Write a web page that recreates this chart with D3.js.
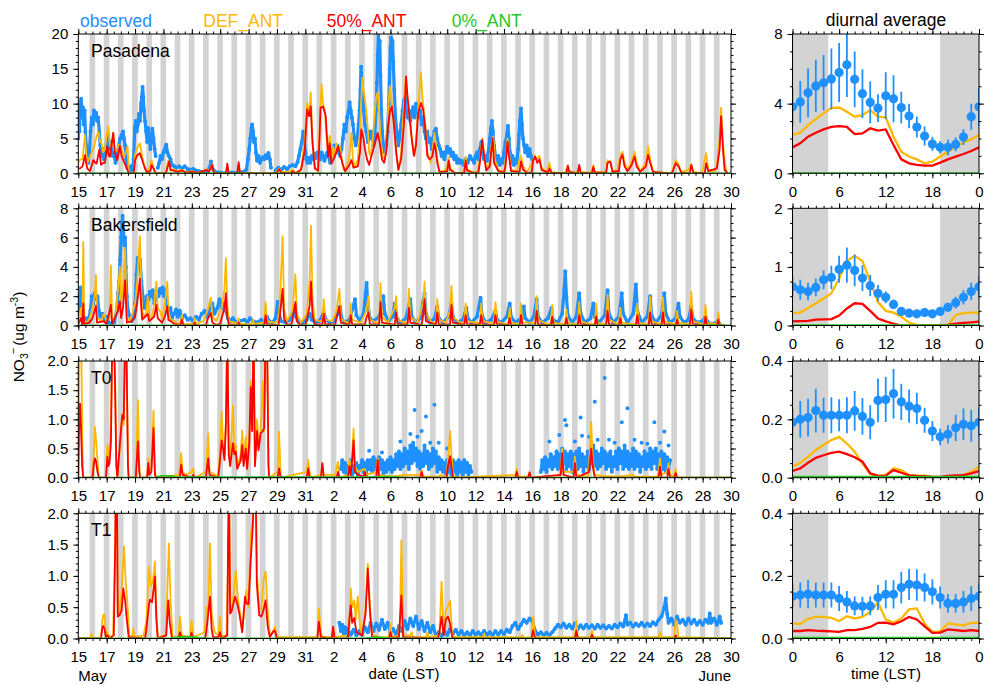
<!DOCTYPE html>
<html><head><meta charset="utf-8">
<script src="https://cdn.jsdelivr.net/npm/d3@7/dist/d3.min.js"></script>
<style>body{margin:0;background:#fff}</style>
</head><body>
<svg id="c" width="984" height="685"></svg>
<script>
// ---------------- DATA ----------------
const siteNames = ["Pasadena","Bakersfield","T0","T1"];
const seriesNames = ["observed","DEF_ANT","50%_ANT","0%_ANT"];
// date ticks: days since 15 May 00:00 LST
const dateTickDays = [0,2,4,6,8,10,12,14,16,18,20,22,24,26,28,30,32,34,36,38,40,42,44,46];
const dateTickLabels = ["15","17","19","21","23","25","27","29","31","2","4","6","8","10","12","14","16","18","20","22","24","26","28","30"];
const hourTicks = [0,6,12,18,24];
const hourTickLabels = ["0","6","12","18","0"];
const hours = [0,1,2,3,4,5,6,7,8,9,10,11,12,13,14,15,16,17,18,19,20,21,22,23,24];
const leftMax = [20,8,2,2], leftMajor = [5,2,0.5,0.5], leftMinor = [1,0.5,0.1,0.1], leftFmt = ["d","d",".1f",".1f"];
const rightMax = [8,2,0.4,0.4], rightMajor = [4,1,0.2,0.2], rightMinor = [1,0.25,0.05,0.05], rightFmt = ["d","d",".1f",".1f"];

// ---- time series [day since May 15, value]; null = gap ----
const pasObs = [[0.0,5],[0.04,9],[0.08,6],[0.13,10],[0.2,10.7],[0.26,8],[0.32,9.5],[0.38,7],[0.45,9],[0.5,6],[0.56,4],[0.62,2],[0.7,1.5],[0.78,3],[0.86,6],[0.95,8],[1.03,7],[1.1,9],[1.18,8],[1.25,8.7],[1.33,7.5],[1.4,8],[1.48,6],[1.55,4],[1.62,2.5],[1.7,3.5],[1.8,2],[1.9,3],[2.0,4.5],[2.1,5.5],[2.18,3.5],[2.28,4.5],[2.4,2.5],[2.5,3],[2.62,1.5],[2.72,2.5],[2.85,4],[2.95,5],[3.05,5.5],[3.15,6],[3.22,5],[3.3,4],[3.38,2],[3.45,0.8],[3.6,0.3],[3.7,1],[3.8,0.5],[3.9,2],[3.98,6.5],[4.05,7.5],[4.12,6],[4.2,7],[4.28,8.5],[4.35,7.5],[4.42,10],[4.48,11],[4.53,12.4],[4.58,11],[4.63,9],[4.7,7.5],[4.78,6],[4.85,4.5],[4.92,6.5],[5.0,5],[5.08,3.5],[5.15,5],[5.22,6.4],[5.3,5],[5.38,3.5],[5.45,2.5],null,[5.6,0.8],[5.7,1.5],[5.8,2.5],[5.9,2],[6.0,3],[6.1,3.5],[6.2,4.1],[6.28,3],[6.38,2.5],[6.5,2],[6.6,1.2],[6.75,1],[6.9,0.8],[7.1,1],[7.3,0.7],[7.5,1],[7.7,0.6],[7.9,0.5],[8.1,0.6],[8.3,0.4],[8.5,0.3],[8.7,0.2],[8.9,0.1],[9.1,0.3],[9.25,0.8],[9.35,1.7],[9.45,0.7],[9.6,0.3],[9.8,0.1],[10.0,0.1],[10.4,0],[10.8,0.1],[11.2,0.1],[11.6,0.2],[11.85,0.5],[11.95,2],[12.05,3.5],[12.12,5],[12.2,6.5],[12.25,7],[12.32,6],[12.38,4.5],[12.45,5],[12.52,3],[12.6,1.8],[12.7,2.5],[12.8,1.5],[12.9,2],[13.0,2.3],[13.1,2],[13.2,2.6],[13.3,2.2],[13.4,2.9],[13.5,2],[13.58,0.8],null,[13.9,0.4],[14.1,0.8],[14.3,0.5],[14.5,0.9],[14.7,0.6],[14.9,1],[15.1,1.2],[15.3,1],[15.45,1.6],[15.55,2.5],[15.65,3.5],[15.75,4.5],[15.85,6],[15.92,5],[16.0,3],[16.08,2],[16.15,1.5],[16.25,2.2],[16.35,1.5],[16.45,2.5],[16.55,2],[16.65,2.8],[16.75,2.2],[16.85,3],[16.95,2.5],[17.05,2],[17.15,3],[17.25,2.5],[17.35,1.8],[17.45,2.5],[17.55,3],[17.65,2.4],[17.75,1.5],[17.85,2.5],[17.95,3.5],[18.05,4],[18.15,3],[18.25,4],[18.35,3],[18.45,2.5],[18.55,3.5],[18.65,5],[18.75,7],[18.85,6],[18.95,8],[19.05,9],[19.12,10.2],[19.2,9],[19.28,8],[19.36,7],[19.45,5],[19.55,4],[19.65,5],[19.75,7],[19.82,9],[19.88,12],[19.93,15.3],[19.98,13],[20.05,11],[20.12,9],[20.2,7],[20.3,6],[20.4,4.5],[20.5,6],[20.6,5],[20.7,6],[20.8,4],[20.9,5.5],[20.98,9],[21.05,13],[21.1,17],[21.15,20],[21.2,18],[21.25,19],[21.3,14],[21.36,9],[21.42,6],[21.5,4],[21.6,3],[21.7,4],[21.8,6],[21.88,10],[21.95,15],[22.0,18],[22.05,19.5],[22.1,17],[22.15,19],[22.2,16],[22.27,12],[22.35,8],[22.45,6],[22.55,4],[22.65,5],[22.75,7],[22.85,9],[22.95,10.5],[23.05,11],[23.12,9],[23.2,8],[23.3,9],[23.4,7.5],[23.5,8.5],[23.6,9.5],[23.7,8],[23.8,10],[23.9,9],[24.0,8],[24.1,9],[24.2,7],[24.3,8],[24.4,6],[24.5,5],[24.6,6],[24.7,4.5],[24.8,5],[24.9,3.5],[25.0,5],[25.1,6],[25.2,6.4],[25.3,5],[25.4,4],[25.5,3.5],[25.6,2.5],[25.7,3],[25.8,2],[25.9,3],[26.0,3.8],[26.1,3],[26.2,3.5],[26.3,2.5],[26.4,3],[26.5,2],[26.6,2.5],[26.7,1.5],[26.8,2],[26.9,1.5],[27.0,1.8],[27.15,1.2],[27.3,2],[27.45,1.5],[27.6,2.5],[27.75,2],[27.9,1.5],[28.0,2.5],[28.1,3],[28.2,2],[28.3,3.5],[28.4,4.5],[28.5,3],[28.6,2],[28.7,2.5],[28.8,1.8],[28.9,3],[29.0,5],[29.08,6.5],[29.15,7.5],[29.22,6],[29.3,4],[29.4,2.5],[29.5,1.5],[29.6,2.5],[29.7,1.2],[29.8,2],[29.9,1.5],[30.0,3],[30.1,4.5],[30.2,5.5],[30.28,6.8],[30.35,5],[30.42,3],[30.5,1.5],[30.6,2.5],[30.7,1.2],[30.8,2],[30.9,1.5],[31.0,3.5],[31.06,5.5],[31.12,7.5],[31.2,9.3],[31.27,7],[31.34,5],[31.42,4],[31.5,3],[31.6,4],[31.7,2.5],[31.8,3.5],[31.9,2.5],[32.0,2]];
const pasDef = [[0,1.5],[0.12,2],[0.3,2],[0.47,5.5],[0.55,3],[0.63,1.5],[0.82,2.4],[0.95,3],[1.13,4],[1.25,5],[1.41,6],[1.55,4.5],[1.64,4.3],[1.75,3],[1.88,3.5],[2.0,5.5],[2.11,6.7],[2.23,4],[2.35,3.8],[2.46,5.8],[2.58,3],[2.75,3.5],[2.82,4.1],[2.98,3.8],[3.1,3],[3.22,2.4],[3.35,3],[3.47,3.9],[3.57,0],[3.9,0],[4.0,2.7],[4.15,3.6],[4.35,4.3],[4.45,3],[4.6,1.5],[4.8,0],[5.1,1.2],[5.16,1.9],[5.3,0.8],[5.45,0],[6.1,0.1],[6.2,0.3],[6.34,1.9],[6.5,0.4],[6.7,0.6],[7.0,0.3],[7.3,0.5],[7.6,0.1],[8.0,0.3],[8.3,0.1],[8.7,0.2],[9.04,0.6],[9.2,0.3],[9.44,1.3],[9.55,0.1],[10.0,0],[10.4,0],[10.5,0.9],[10.6,0],[11.2,0],[11.3,1.1],[11.4,0],[11.9,0.1],[12.5,0],[13.5,0],[13.9,0],[14.0,0.3],[14.15,0.7],[14.3,0.2],[14.8,0.2],[15.1,0.5],[15.3,0.1],[15.6,0],[15.73,1],[15.96,4.8],[16.13,10.1],[16.27,8.7],[16.38,11.6],[16.5,5],[16.67,0.8],[16.9,0.3],[17.0,6],[17.14,12.8],[17.25,10],[17.37,9],[17.5,5],[17.6,3.4],[17.72,5.4],[17.84,1.9],[17.96,3.8],[18.08,2.5],[18.19,4.3],[18.31,3.5],[18.43,3.9],[18.54,2.4],[18.7,0.5],[18.9,0.8],[19.1,2.4],[19.25,5.8],[19.35,2],[19.5,1],[19.7,2],[19.85,6],[19.95,11],[20.02,13.7],[20.1,12],[20.2,10.6],[20.3,9],[20.4,6.5],[20.5,3],[20.6,2.4],[20.75,5],[20.9,9],[21.0,11],[21.1,11.6],[21.2,9],[21.3,5],[21.45,2.4],[21.6,2],[21.75,5],[21.85,9.6],[21.95,12.5],[22.05,11],[22.15,9],[22.3,5.5],[22.45,2.4],[22.6,0.5],[22.75,3],[22.9,8],[23.05,13.5],[23.15,12],[23.25,10],[23.4,7],[23.55,4],[23.7,2.5],[23.85,6],[23.95,9.2],[24.05,12],[24.15,14.5],[24.25,11],[24.35,9],[24.5,6.2],[24.6,3],[24.7,2.4],[24.85,1.5],[24.95,2.9],[25.1,5.8],[25.2,4],[25.3,2],[25.45,0.3],[25.8,0.3],[26.0,1],[26.1,2.2],[26.2,0.8],[26.5,0.1],[27.1,0.05],[27.2,0.8],[27.3,2.4],[27.4,0.6],[27.8,0.1],[28.1,0.1],[28.2,1],[28.3,2],[28.47,5],[28.6,2.8],[28.75,0.6],[29.0,1.5],[29.15,4.5],[29.25,5.3],[29.35,2],[29.6,0.5],[30.0,0.2],[30.1,1.5],[30.25,5],[30.35,3],[30.5,0.5],[30.9,0.3],[31.1,2],[31.2,2.5],[31.35,1],[31.6,0.2],[32.0,1.5],[32.15,2.6],[32.3,2],[32.5,2.5],[32.65,0.8],[33.0,0.2],[33.2,1.5],[33.35,0.2],[34.0,0],[34.3,0],[34.4,0.6],[34.5,1.1],[34.6,0.3],[35.1,0.05],[35.2,0.4],[35.3,1],[35.4,0.2],[36.1,0.05],[36.2,0.5],[36.3,1.2],[36.4,0.2],[37.0,0.2],[37.2,0.1],[37.3,1.9],[37.5,1.5],[37.65,0.3],[38.0,0.5],[38.2,2.5],[38.35,3.1],[38.5,1.5],[38.7,0.5],[39.0,1.8],[39.2,3.1],[39.35,1.5],[39.6,0.3],[40.0,1.5],[40.15,3.9],[40.3,2],[40.5,0.3],[41.0,0],[41.1,0.3],[41.2,0],[41.8,0],[41.9,0.5],[42.1,1.9],[42.3,1.3],[42.5,0.2],[43.0,0.5],[43.2,1.3],[43.35,0.2],[43.9,0.05],[44.0,0.5],[44.25,2.9],[44.4,0.5],[44.8,0.2],[45.0,1],[45.2,5],[45.3,9.4],[45.45,4],[45.55,1.9],[45.65,0.5],[45.75,0]];
const pasHalf = [[0,0.7],[0.12,0.7],[0.3,1],[0.47,2.6],[0.55,1.5],[0.63,0.7],[0.82,0.3],[1.06,1.9],[1.2,1.5],[1.29,1.4],[1.48,3.4],[1.6,1.2],[1.75,1.5],[1.88,1.5],[2.04,3.9],[2.15,2.5],[2.23,2.4],[2.46,5.8],[2.58,2.9],[2.75,1.9],[2.93,3.9],[3.05,2.5],[3.17,1.9],[3.36,1],[3.5,0.3],[3.57,0],[3.9,0],[4.0,1.9],[4.15,2.6],[4.33,2.9],[4.5,1.9],[4.7,0.7],[4.9,0],[5.1,0.5],[5.16,1.2],[5.3,0.7],[5.45,0],[6.1,0],[6.2,0.2],[6.4,1.7],[6.5,0.5],[6.7,0.4],[7.0,0.2],[7.3,0.4],[7.6,0.1],[8.0,0.2],[8.5,0.1],[9.04,0.5],[9.2,0.2],[9.44,1.2],[9.55,0.1],[10.0,0],[10.4,0],[10.5,1.4],[10.6,0],[11.2,0],[11.3,1.6],[11.4,0],[12.0,0],[13.9,0],[14.0,0.1],[14.15,0.6],[14.3,0.1],[15.0,0],[15.1,0.3],[15.3,0],[15.7,0.5],[15.96,3.4],[16.13,9.2],[16.27,8.2],[16.38,9.6],[16.5,4.5],[16.67,0.7],[16.9,0.4],[17.0,5],[17.07,9.4],[17.25,9.6],[17.44,8.2],[17.6,2.4],[17.72,4.3],[17.84,1.4],[18.08,2.4],[18.31,3.9],[18.43,2.9],[18.62,1.4],[18.8,0.3],[19.1,1.2],[19.25,1.9],[19.4,0.8],[19.7,1],[19.85,3],[19.95,6.3],[20.1,5],[20.2,3.5],[20.35,2],[20.5,1.2],[20.6,2],[20.8,3.5],[21.0,5],[21.1,5.8],[21.25,4.3],[21.4,2],[21.55,1.5],[21.7,3],[21.82,6.7],[21.95,8.7],[22.1,9.6],[22.25,7],[22.4,3],[22.55,0.5],[22.75,2],[22.95,7],[23.1,13.9],[23.2,11],[23.35,8],[23.5,5],[23.65,2.5],[23.8,4],[23.95,8.7],[24.15,10.1],[24.3,9.2],[24.45,6.5],[24.6,2.5],[24.75,2],[24.95,2.4],[25.1,4.3],[25.2,3.2],[25.3,1.5],[25.45,0.2],[25.8,0.2],[26.0,0.3],[26.1,1.8],[26.2,0.5],[26.5,0.1],[27.2,0.05],[27.3,1.8],[27.4,0.4],[27.8,0.1],[28.2,0.1],[28.3,1.5],[28.47,4.8],[28.6,2.5],[28.75,0.4],[29.0,1],[29.2,5],[29.3,1.5],[29.6,0.3],[30.0,0.1],[30.1,1],[30.25,4.5],[30.35,2.5],[30.5,0.3],[31.1,0.2],[31.2,1.7],[31.35,0.5],[31.6,0.1],[31.95,0.1],[32.05,1.8],[32.2,2.4],[32.35,1.5],[32.5,2],[32.65,0.5],[33.1,0.1],[33.2,0.7],[33.35,0.1],[34.4,0],[34.5,1.1],[34.6,0.2],[35.2,0],[35.3,1.2],[35.4,0.1],[36.2,0],[36.3,0.9],[36.4,0.1],[37.2,0.1],[37.3,1.5],[37.5,1.7],[37.65,0.2],[38.1,0.3],[38.2,2],[38.35,2.65],[38.5,1],[38.7,0.3],[39.0,1.2],[39.2,2.4],[39.35,1],[39.6,0.2],[40.0,1],[40.15,2.65],[40.3,1.5],[40.5,0.2],[41.1,0.1],[41.8,0],[41.9,0.3],[42.1,1.45],[42.3,1],[42.5,0.1],[43.1,0],[43.2,1.2],[43.35,0.1],[44.15,0],[44.25,1.45],[44.4,0.3],[45.0,0.7],[45.2,3.5],[45.3,8.2],[45.45,3],[45.55,0.5],[45.75,0]];
const pasZero = [[0,0],[46,0]];

const bakObs = [[0,0.5],[0.05,2],[0.1,1],[0.15,2.6],[0.22,1.5],[0.3,0.5],[0.4,0.3],[0.55,0.5],[0.7,0.3],[0.85,1],[0.95,2],[1.05,1.5],[1.15,2.2],[1.25,1.8],[1.35,2],[1.45,1],[1.55,0.6],[1.7,0.8],[1.85,0.4],[2.0,0.6],[2.15,0.2],[2.35,0.1],[2.55,0.2],[2.7,1],[2.8,2.2],[2.88,3],[2.95,4.5],[3.02,6],[3.08,7],[3.12,7.5],[3.18,6.5],[3.25,5.5],[3.3,6],[3.35,4],[3.42,2],[3.5,1],[3.6,0.7],[3.75,0.3],[3.9,0.5],[4.0,1.5],[4.1,3.5],[4.18,4.6],[4.25,4],[4.35,4.5],[4.45,3],[4.55,2],[4.65,1.2],[4.75,1.5],[4.85,2],[4.95,1.8],[5.05,2.3],[5.15,2],[5.25,2.4],[5.35,1.5],[5.45,1.8],[5.55,2.3],[5.65,2],[5.75,2.5],[5.85,2.2],[5.95,2.6],[6.05,2],[6.15,2.4],[6.25,1.5],[6.35,0.8],[6.5,1.2],[6.6,0.5],[6.75,0.8],[6.9,1.1],[7.0,0.6],[7.15,1],[7.3,0.5],[7.5,0.7],[7.7,0.4],[7.9,0.5],[8.1,0.3],[8.3,0.6],[8.5,0.4],[8.7,0.8],[8.9,1],[9.1,0.6],[9.3,1.2],[9.45,1.5],[9.6,0.8],[9.8,1.2],[9.95,1.8],[10.1,1.2],[10.25,1.5],[10.4,1],[10.55,0.5],[10.7,0.3],[10.9,0.5],[11.1,0.2],[11.4,0.3],[11.7,0.4],[11.9,0.2],[12.1,0.5],[12.3,0.3],[12.6,0.2],[12.9,0.4],[13.1,0.2],[13.3,0.6],[13.45,0.3],[13.7,0.2],[13.9,0.5],[14.05,1.6],[14.15,0.8],[14.3,0.3],[14.6,0.2],[14.9,0.4],[15.1,0.8],[15.25,1.3],[15.35,0.6],[15.5,0.3],[15.8,0.2],[16.1,0.4],[16.3,0.8],[16.45,0.4],[16.7,0.2],[17.0,0.3],[17.3,0.9],[17.45,0.4],[17.7,0.2],[18.0,0.3],[18.3,0.8],[18.45,1.3],[18.55,0.5],[18.8,0.2],[19.1,0.4],[19.35,1.2],[19.5,1.8],[19.6,0.7],[19.85,0.3],[20.1,0.8],[20.25,2.2],[20.32,2.9],[20.4,1.5],[20.55,0.5],[20.8,0.3],[21.2,0.6],[21.4,1.4],[21.5,2],[21.6,0.8],[21.85,0.3],[22.15,0.6],[22.3,1.5],[22.4,0.6],[22.7,0.2],[23.1,0.5],[23.3,1.4],[23.4,1.8],[23.5,0.6],[23.8,0.2],[24.1,0.5],[24.3,1.6],[24.4,2.2],[24.5,0.8],[24.8,0.2],[25.1,0.5],[25.3,1.3],[25.4,0.5],[25.7,0.2],[26.1,0.6],[26.3,1.5],[26.4,0.6],[26.7,0.2],[27.1,0.4],[27.35,1.2],[27.45,0.5],[27.7,0.2],[28.1,0.6],[28.35,1.9],[28.45,0.7],[28.7,0.2],[29.1,0.4],[29.4,1],[29.5,0.4],[29.8,0.2],[30.2,0.6],[30.4,1.5],[30.5,0.6],[30.8,0.2],[31.2,0.5],[31.4,1.3],[31.5,0.5],[31.8,0.2],[32.1,0.6],[32.3,1.8],[32.4,0.6],[32.7,0.2],[33.1,0.5],[33.35,1.2],[33.45,0.4],[33.8,0.2],[34.1,0.8],[34.25,2.5],[34.32,3.7],[34.4,2],[34.5,0.7],[34.8,0.2],[35.1,0.6],[35.3,2.2],[35.4,0.8],[35.7,0.2],[36.1,0.5],[36.3,1.5],[36.4,0.6],[36.7,0.2],[37.1,0.7],[37.3,2.4],[37.4,0.8],[37.7,0.2],[38.1,0.6],[38.3,2.2],[38.4,0.8],[38.7,0.2],[39.1,0.8],[39.3,2.8],[39.4,1],[39.7,0.2],[40.1,0.6],[40.3,2],[40.4,0.7],[40.7,0.2],[41.1,0.7],[41.3,2.2],[41.4,0.8],[41.7,0.2],[42.1,0.5],[42.3,1.5],[42.4,0.6],[42.7,0.2],[43.0,0.4],[43.2,1.3],[43.3,0.5],[43.6,0.2],[44.0,0.3],[44.2,0.6],[44.3,0.3],[44.6,0.1],[45.0,0.2],[45.2,0.1]];
const bakDef = [[0,0.3],[0.2,1.2],[0.28,0],[0.35,5.7],[0.42,0.3],[0.6,0.2],[0.8,0.5],[1.0,1.2],[1.15,2],[1.24,3.45],[1.32,0.5],[1.6,0.3],[1.8,0.8],[2.0,0.3],[2.2,0.5],[2.3,4.1],[2.38,0.3],[2.6,0.5],[2.8,2.5],[2.93,4.0],[3.02,1.5],[3.15,2.5],[3.3,5.3],[3.42,0.5],[3.6,0.3],[3.8,0.8],[4.0,1.5],[4.15,3],[4.34,6.1],[4.42,3],[4.5,1],[4.65,0.5],[4.8,1],[4.9,2],[5.0,0.7],[5.2,0.5],[5.35,1.5],[5.5,3.0],[5.6,1.2],[5.75,1],[5.9,0.5],[6.1,1.5],[6.27,3.0],[6.35,1],[6.5,0.4],[6.8,0.3],[7.0,0.1],[7.2,0.1],[7.3,0.7],[7.4,0.1],[7.8,0.1],[8.1,0.1],[8.2,0.5],[8.3,0.1],[8.8,0.3],[9.1,1],[9.34,1.9],[9.45,0.6],[9.7,0.3],[10.1,1.2],[10.3,2.5],[10.4,4.6],[10.5,1.5],[10.6,0.3],[11.0,0.2],[11.2,0.1],[11.3,0.5],[11.4,0.1],[12.0,0.1],[12.2,0.1],[12.3,0.4],[12.4,0.1],[13.0,0.2],[13.1,0.2],[13.2,1.6],[13.3,0.3],[13.8,0.2],[14.1,0.3],[14.2,1.5],[14.4,6.1],[14.5,1.2],[14.7,0.3],[15.1,1],[15.3,3.5],[15.4,0.8],[15.7,0.2],[16.1,0.8],[16.3,3],[16.4,6.8],[16.5,2],[16.65,0.4],[17.0,0.3],[17.2,0.3],[17.3,1.8],[17.4,0.4],[17.9,0.3],[18.2,1],[18.4,2.5],[18.5,0.5],[18.9,0.2],[19.1,0.2],[19.2,1.5],[19.3,0.4],[19.9,0.2],[20.3,1],[20.45,2],[20.55,0.4],[21.0,0.2],[21.2,0.2],[21.3,2.9],[21.4,0.6],[21.8,0.2],[22.3,1.2],[22.4,2],[22.5,0.4],[23.0,0.2],[23.2,0.2],[23.3,2.5],[23.4,0.6],[23.9,0.2],[24.3,1.5],[24.4,3],[24.5,0.8],[24.9,0.2],[25.2,0.2],[25.3,1.8],[25.4,0.4],[25.9,0.2],[26.2,1],[26.3,2.7],[26.4,0.6],[26.9,0.2],[27.2,0.2],[27.3,1.5],[27.4,0.3],[28.0,0.2],[28.3,0.2],[28.4,1.5],[28.5,0.3],[29.0,0.2],[29.3,0.2],[29.4,1.6],[29.5,0.3],[30.0,0.1],[30.3,0.1],[30.4,1.2],[30.5,0.2],[31.0,0.1],[31.1,0.1],[31.2,1.5],[31.3,0.2],[32.0,0.2],[32.2,0.2],[32.3,2],[32.4,0.4],[33.0,0.1],[33.3,0.1],[33.4,1.4],[33.5,0.2],[34.0,0.1],[34.3,0.1],[34.4,1.1],[34.5,0.2],[35.0,0.1],[35.2,0.1],[35.3,1.6],[35.4,0.3],[36.0,0.1],[36.4,0.1],[36.5,1.5],[36.6,0.2],[37.0,0.1],[37.2,0.1],[37.3,2.1],[37.4,0.4],[38.0,0.1],[38.1,0.1],[38.2,1.2],[38.3,0.2],[39.0,0.1],[39.3,0.1],[39.4,1.5],[39.5,0.2],[40.0,0.1],[40.2,0.1],[40.3,2],[40.4,0.3],[41.0,0.1],[41.1,0.1],[41.2,1.9],[41.3,0.3],[42.0,0.1],[42.1,0.1],[42.2,1],[42.3,0.2],[43.0,0.1],[43.1,0.1],[43.2,2.3],[43.3,0.3],[44.0,0.1],[44.1,0.1],[44.2,1.4],[44.3,0.2],[45.0,0.1],[45.1,0.9],[45.2,0.1],[45.6,0]];
const bakHalf = [[0,0.1],[0.2,0.5],[0.28,0],[0.35,1.5],[0.42,0.1],[0.8,0.2],[1.0,0.5],[1.24,1.35],[1.32,0.2],[1.8,0.3],[2.0,0.1],[2.3,1.4],[2.38,0.1],[2.8,1],[2.93,1.65],[3.02,0.5],[3.15,1.2],[3.3,3.1],[3.42,0.2],[3.8,0.3],[4.0,0.6],[4.15,1.5],[4.34,3.2],[4.42,1.5],[4.5,0.4],[4.9,0.8],[5.0,0.3],[5.35,0.6],[5.5,1.4],[5.6,0.5],[5.9,0.2],[6.1,0.6],[6.27,1.3],[6.35,0.4],[6.8,0.1],[7.2,0.05],[7.3,0.4],[7.4,0],[8.1,0],[8.2,0.2],[8.3,0],[9.0,0],[9.1,0.4],[9.34,0.85],[9.45,0.2],[9.7,0.05],[10.0,0.1],[10.1,0.5],[10.3,1.2],[10.4,2.2],[10.5,0.6],[10.6,0.1],[11.2,0],[11.3,0.2],[11.4,0],[13.1,0],[13.2,0.7],[13.3,0.1],[14.1,0],[14.2,0.6],[14.4,2.5],[14.5,0.5],[14.7,0.05],[15.0,0.05],[15.1,0.4],[15.3,1.6],[15.4,0.3],[15.6,0.05],[16.0,0.05],[16.1,0.4],[16.3,1.3],[16.4,3],[16.5,0.8],[16.65,0.1],[17.2,0.05],[17.3,0.8],[17.4,0.1],[18.1,0.05],[18.2,0.5],[18.4,1.3],[18.5,0.2],[19.1,0.05],[19.2,0.7],[19.3,0.1],[20.2,0.05],[20.3,0.5],[20.45,0.9],[20.55,0.1],[21.2,0.05],[21.3,1.6],[21.4,0.2],[22.3,0.05],[22.4,0.9],[22.5,0.1],[23.2,0.05],[23.3,1.2],[23.4,0.2],[24.2,0.05],[24.3,0.7],[24.4,1.8],[24.5,0.3],[25.2,0.05],[25.3,0.9],[25.4,0.1],[26.2,0.05],[26.3,1.4],[26.4,0.2],[27.2,0.05],[27.3,0.7],[27.4,0.1],[28.3,0.05],[28.4,0.7],[28.5,0.1],[29.3,0.03],[29.4,0.7],[29.5,0.1],[30.3,0.02],[30.4,0.5],[30.5,0],[31.1,0],[31.2,0.7],[31.3,0],[32.2,0],[32.3,1],[32.4,0.1],[33.3,0],[33.4,0.6],[33.5,0],[34.3,0],[34.4,0.5],[34.5,0],[35.2,0],[35.3,0.7],[35.4,0.1],[36.4,0],[36.5,0.6],[36.6,0],[37.2,0],[37.3,1],[37.4,0.1],[38.1,0],[38.2,0.5],[38.3,0],[39.3,0],[39.4,0.7],[39.5,0],[40.2,0],[40.3,0.9],[40.4,0.1],[41.1,0],[41.2,0.9],[41.3,0.1],[42.1,0],[42.2,0.4],[42.3,0],[43.1,0],[43.2,1.1],[43.3,0.1],[44.1,0],[44.2,0.6],[44.3,0],[45.0,0],[45.1,0.4],[45.2,0],[45.6,0]];
const bakZero = [[0,0],[46,0]];

const t0Obs = [[18.5,0.15],[18.6,0.3],[18.7,0.1],[18.8,0.25],[18.9,0.05],[19.0,0.2],[19.1,0.1],[19.2,0.3],[19.3,0.05],[19.4,0.2],[19.5,0.1],[19.6,0.25],[19.7,0.05],[19.8,0.2],[19.9,0.15],[20.0,0.3],[20.1,0.1],[20.2,0.25],[20.3,0.05],[20.4,0.3],[20.5,0.15],[20.6,0.3],[20.7,0.1],[20.8,0.35],[20.9,0.15],[21.0,0.3],[21.1,0.1],[21.2,0.35],[21.3,0.15],[21.4,0.3],[21.5,0.05],[21.6,0.25],[21.7,0.1],[21.8,0.3],[21.9,0.15],[22.0,0.35],[22.1,0.1],[22.2,0.3],[22.3,0.15],[22.4,0.4],[22.5,0.2],[22.6,0.45],[22.7,0.15],[22.8,0.4],[22.9,0.2],[23.0,0.5],[23.1,0.25],[23.2,0.45],[23.3,0.15],[23.4,0.55],[23.5,0.25],[23.6,0.6],[23.7,0.3],[23.8,0.5],[23.9,0.2],[24.0,0.45],[24.1,0.15],[24.2,0.4],[24.3,0.2],[24.4,0.55],[24.5,0.25],[24.6,0.45],[24.7,0.15],[24.8,0.4],[24.9,0.2],[25.0,0.5],[25.1,0.25],[25.2,0.45],[25.3,0.1],[25.4,0.35],[25.5,0.15],[25.6,0.3],[25.7,0.1],[25.8,0.25],[25.9,0.05],[26.0,0.3],[26.1,0.1],[26.2,0.25],[26.3,0.05],[26.4,0.3],[26.5,0.1],[26.6,0.25],[26.7,0.05],[26.8,0.3],[26.9,0.1],[27.0,0.25],[27.1,0.05],[27.2,0.3],[27.3,0.1],[27.4,0.25],[27.5,0.05],[27.6,0.2],[27.7,0.1],null,[32.6,0.1],[32.7,0.3],[32.8,0.15],[32.9,0.35],[33.0,0.1],[33.1,0.3],[33.2,0.2],[33.3,0.4],[33.4,0.15],[33.5,0.35],[33.6,0.2],[33.7,0.45],[33.8,0.15],[33.9,0.4],[34.0,0.2],[34.1,0.5],[34.2,0.25],[34.3,0.45],[34.4,0.15],[34.5,0.4],[34.6,0.2],[34.7,0.45],[34.8,0.1],[34.9,0.4],[35.0,0.2],[35.1,0.45],[35.2,0.15],[35.3,0.5],[35.4,0.2],[35.5,0.4],[35.6,0.1],[35.7,0.35],[35.8,0.2],[35.9,0.45],[36.0,0.15],[36.1,0.4],[36.2,0.25],[36.3,0.55],[36.4,0.2],[36.5,0.45],[36.6,0.15],[36.7,0.4],[36.8,0.2],[36.9,0.5],[37.0,0.25],[37.1,0.45],[37.2,0.15],[37.3,0.4],[37.4,0.2],[37.5,0.45],[37.6,0.1],[37.7,0.35],[37.8,0.2],[37.9,0.45],[38.0,0.15],[38.1,0.5],[38.2,0.25],[38.3,0.45],[38.4,0.15],[38.5,0.55],[38.6,0.2],[38.7,0.45],[38.8,0.15],[38.9,0.4],[39.0,0.2],[39.1,0.5],[39.2,0.15],[39.3,0.45],[39.4,0.2],[39.5,0.4],[39.6,0.1],[39.7,0.35],[39.8,0.2],[39.9,0.45],[40.0,0.15],[40.1,0.4],[40.2,0.2],[40.3,0.5],[40.4,0.15],[40.5,0.45],[40.6,0.25],[40.7,0.5],[40.8,0.15],[40.9,0.4],[41.0,0.2],[41.1,0.45],[41.2,0.15],[41.3,0.4],[41.4,0.1],[41.5,0.35],[41.6,0.15],[41.7,0.3]];
const t0ObsOutliers = [[20.5,0.46],[21.4,0.43],[22.7,0.62],[23.4,0.75],[23.7,1.16],[23.9,0.7],[24.2,0.8],[24.5,1.05],[24.8,0.6],[25.1,1.25],[25.4,0.6],[26.0,0.5],[33.2,0.62],[33.9,0.73],[34.3,0.99],[34.4,0.9],[35.0,0.62],[35.4,1.03],[35.5,0.72],[36.0,0.7],[36.4,1.3],[36.6,0.65],[37.1,1.71],[37.4,0.65],[37.8,0.6],[38.3,0.95],[38.7,1.19],[39.2,0.65],[39.7,0.6],[40.1,0.58],[40.6,0.95],[41.0,0.6],[41.3,0.79],[41.6,0.55]];
const t0Def = [[0,0],[0.05,1.5],[0.1,2.6],[0.2,2.6],[0.27,0.8],[0.35,0],[1.0,0],[1.1,0.5],[1.17,0.87],[1.25,0.65],[1.35,0.3],[1.45,0],[1.95,0],[2.05,0.57],[2.12,0.35],[2.2,0.45],[2.3,0.9],[2.4,2.5],[2.5,2.5],[2.58,1.9],[2.68,0.3],[2.75,0],[3.0,0.7],[3.1,1.1],[3.2,0.9],[3.3,2.4],[3.38,2.5],[3.5,0.3],[3.55,0],[4.05,0],[4.2,1.33],[4.3,0.2],[4.35,0],[4.85,0],[4.93,0.33],[5.0,0.1],[5.15,0.2],[5.3,1.15],[5.4,0.1],[5.5,0],[7.1,0.05],[7.25,0.42],[7.35,0.1],[7.6,0.05],[8.0,0.1],[8.1,0.16],[8.2,0],[9.0,0.1],[9.15,0.76],[9.25,0.1],[9.85,0.02],[9.95,0.3],[10.1,1.13],[10.2,0.6],[10.3,0.4],[10.4,0.9],[10.5,2.5],[10.6,0.5],[10.7,0.3],[10.9,1.24],[11.0,0.5],[11.1,0.55],[11.2,0.2],[11.45,0.4],[11.55,0.81],[11.65,0.3],[11.8,0.7],[11.9,0.2],[12.05,0.5],[12.15,1.65],[12.25,1.0],[12.35,2.5],[12.45,0.2],[12.6,1.0],[12.7,0.5],[12.85,0.8],[13.0,1.65],[13.1,0.8],[13.2,2.5],[13.3,2.5],[13.4,0.3],[13.45,0],[14.05,0.1],[14.15,0.79],[14.25,0.1],[14.3,0],[16.1,0.1],[16.2,0.3],[16.3,0.1],[16.4,0],[17.1,0.05],[17.2,0.25],[17.3,0.05],[18.1,0.05],[18.3,0.27],[18.4,0],[19.0,0.05],[19.1,0.3],[19.2,0.1],[19.3,0.4],[19.4,0.84],[19.5,0.2],[19.7,0.1],[20.2,0.15],[20.3,0.05],[21.0,0.1],[21.1,0.33],[21.2,0.05],[22.0,0.02],[23.1,0.05],[24.1,0.05],[24.2,0.13],[24.3,0.02],[25.4,0.02],[25.5,0.05],[25.95,0.02],[26.05,0.3],[26.2,0.8],[26.3,0.4],[26.4,0.05],[26.6,0],[30.8,0.05],[30.9,0.16],[31.0,0.02],[31.7,0.02],[31.8,0.09],[31.9,0],[33.9,0],[34.0,0.1],[34.1,0.5],[34.2,0.1],[34.9,0.1],[35.0,0.36],[35.1,0.05],[35.9,0.02],[36.0,0.2],[36.15,0.96],[36.25,0.3],[36.4,0.05],[37.0,0.03],[38.0,0.02],[39.1,0.05],[39.2,0.02],[40.8,0.02],[40.9,0.1],[41.0,0.33],[41.1,0.05],[41.5,0.1],[41.6,0.25],[41.7,0.05],[42.0,0.02],[42.1,0.15],[42.2,0],[46,0]];
const t0Half = [[0,0],[0.05,0.8],[0.12,1.27],[0.2,0.8],[0.27,0.2],[0.35,0],[1.0,0],[1.1,0.25],[1.17,0.33],[1.25,0.28],[1.35,0.1],[1.45,0],[1.95,0],[2.05,0.36],[2.12,0.2],[2.2,0.25],[2.3,0.6],[2.4,2.5],[2.5,2.5],[2.58,1.73],[2.68,0.2],[2.75,0],[3.0,0.8],[3.1,1.07],[3.2,1.0],[3.3,2.4],[3.38,2.5],[3.5,0.2],[3.55,0],[4.05,0],[4.2,0.62],[4.3,0.1],[4.35,0],[4.85,0],[4.93,0.25],[5.0,0.05],[5.15,0.1],[5.3,0.85],[5.4,0.05],[5.5,0],[7.15,0],[7.25,0.22],[7.35,0.05],[8.0,0],[8.1,0.05],[8.2,0],[9.0,0.02],[9.15,0.33],[9.25,0.05],[9.85,0],[9.95,0.2],[10.1,0.64],[10.2,0.5],[10.3,0.3],[10.4,0.9],[10.5,2.5],[10.6,0.4],[10.7,0.2],[10.9,0.59],[11.0,0.4],[11.1,0.45],[11.2,0.15],[11.45,0.3],[11.55,0.56],[11.65,0.2],[11.8,0.5],[11.9,0.15],[12.05,0.6],[12.15,1.55],[12.25,0.8],[12.35,2.5],[12.45,0.2],[12.6,0.8],[12.7,0.47],[12.85,0.76],[13.0,0.8],[13.1,0.85],[13.2,2.5],[13.3,2.5],[13.4,0.2],[13.45,0],[14.05,0],[14.15,0.16],[14.25,0],[16.1,0],[16.2,0.16],[16.3,0],[17.1,0],[17.2,0.25],[17.3,0],[18.2,0],[18.3,0.1],[18.4,0],[19.0,0],[19.1,0.2],[19.2,0.05],[19.3,0.3],[19.4,0.64],[19.5,0.1],[19.7,0.05],[20.1,0.02],[20.2,0.1],[20.3,0],[21.0,0],[21.1,0.3],[21.2,0],[24.1,0],[24.2,0.1],[24.3,0],[25.95,0],[26.05,0.2],[26.2,0.37],[26.3,0.2],[26.4,0],[30.8,0],[30.9,0.1],[31.0,0],[31.7,0],[31.8,0.09],[31.9,0],[34.0,0.05],[34.1,0.42],[34.2,0.05],[34.9,0],[35.0,0.25],[35.1,0],[36.0,0.1],[36.15,0.5],[36.25,0.2],[36.4,0],[40.9,0],[41.0,0.19],[41.1,0],[41.5,0],[41.6,0.15],[41.7,0],[42.0,0],[42.1,0.08],[42.2,0],[46,0]];
const t0Zero = [[0,0],[5.4,0],[5.8,0.03],[6.5,0.03],[7.0,0.01],[20.0,0.01],[22.0,0.02],[23.0,0],[46,0]];

const t1Obs = [[18.4,0.25],[18.5,0.12],[18.6,0.22],[18.7,0.08],[18.8,0.18],[18.9,0.05],[19.0,0.15],[19.2,0.06],[19.4,0.14],[19.6,0.05],[19.8,0.12],[20.0,0.06],[20.2,0.18],[20.4,0.1],[20.6,0.25],[20.8,0.12],[21.0,0.24],[21.2,0.14],[21.4,0.3],[21.6,0.15],[21.8,0.25],[22.0,0.1],[22.2,0.15],[22.4,0.05],[22.6,0.2],[22.8,0.12],[23.0,0.28],[23.2,0.15],[23.4,0.32],[23.6,0.2],[23.8,0.35],[24.0,0.15],[24.2,0.28],[24.4,0.12],[24.6,0.25],[24.8,0.1],[25.0,0.2],[25.2,0.05],[25.4,0.1],[25.6,0.04],[25.8,0.12],[26.0,0.06],[26.2,0.15],[26.4,0.08],[26.6,0.14],[26.8,0.06],[27.0,0.12],[27.2,0.05],[27.4,0.1],[27.6,0.05],[27.8,0.12],[28.0,0.06],[28.2,0.1],[28.4,0.05],[28.6,0.12],[28.8,0.06],[29.0,0.1],[29.2,0.05],[29.4,0.12],[29.6,0.06],[29.8,0.12],[30.0,0.07],[30.2,0.14],[30.4,0.1],[30.6,0.2],[30.8,0.25],[31.0,0.15],[31.2,0.22],[31.4,0.3],[31.6,0.25],[31.8,0.32],[32.0,0.28],[32.2,0.12],[32.4,0.06],[32.6,0.1],[32.8,0.05],[33.0,0.09],[33.2,0.05],[33.4,0.1],[33.6,0.16],[33.8,0.22],[34.0,0.18],[34.2,0.24],[34.4,0.17],[34.6,0.22],[34.8,0.16],[35.0,0.24],[35.2,0.15],[35.4,0.21],[35.6,0.16],[35.8,0.22],[36.0,0.17],[36.2,0.21],[36.4,0.16],[36.6,0.22],[36.8,0.17],[37.0,0.21],[37.2,0.16],[37.4,0.2],[37.6,0.16],[37.8,0.22],[38.0,0.18],[38.2,0.24],[38.4,0.19],[38.6,0.37],[38.7,0.22],[38.9,0.25],[39.1,0.19],[39.3,0.24],[39.5,0.2],[39.7,0.25],[39.9,0.19],[40.1,0.24],[40.3,0.2],[40.5,0.26],[40.7,0.22],[40.9,0.3],[41.1,0.35],[41.3,0.5],[41.4,0.64],[41.5,0.4],[41.6,0.25],[41.8,0.32],[42.0,0.22],[42.2,0.35],[42.4,0.25],[42.6,0.3],[42.8,0.22],[43.0,0.32],[43.2,0.24],[43.4,0.3],[43.6,0.22],[43.8,0.28],[44.0,0.22],[44.2,0.3],[44.4,0.25],[44.5,0.4],[44.6,0.25],[44.8,0.32],[45.0,0.22],[45.2,0.35],[45.3,0.25]];
const t1Def = [[0,0],[0.85,0],[0.94,0.08],[1.0,0],[1.6,0],[1.7,0.3],[1.76,0.37],[1.85,0.39],[1.95,0.05],[2.05,0.1],[2.2,0.02],[2.45,0.05],[2.6,1.5],[2.65,2.5],[2.72,2.5],[2.78,0.4],[2.9,0.37],[3.05,0.75],[3.22,1.47],[3.35,0.88],[3.45,0.61],[3.6,0.02],[3.8,0.05],[3.87,0.16],[3.95,0.02],[4.6,0.05],[4.8,0.29],[4.98,1.15],[5.1,0.83],[5.25,0.9],[5.4,1.23],[5.5,0.5],[5.6,0.02],[6.15,0.05],[6.25,0.61],[6.38,1.52],[6.5,0.6],[6.65,0.02],[7.06,0.02],[7.16,0.35],[7.3,0.05],[7.88,0.02],[7.98,0.29],[8.1,0.02],[8.9,0.1],[9.04,0.51],[9.15,0.4],[9.28,1.52],[9.4,0.4],[9.6,0.1],[9.88,0.05],[9.98,0.35],[10.1,0.03],[10.45,0.05],[10.55,1.2],[10.62,2.5],[10.72,0.4],[10.88,0.56],[11.1,1.09],[11.25,0.64],[11.4,0.4],[11.55,0.1],[11.75,0.59],[11.85,0.77],[12.0,0.5],[12.15,1.63],[12.28,1.9],[12.38,2.5],[12.5,2.5],[12.6,1.0],[12.75,0.5],[12.9,0.45],[13.05,0.93],[13.2,1.07],[13.35,0.45],[13.5,0.05],[13.7,0.1],[13.85,0.19],[14.0,0.02],[16.85,0.02],[16.95,0.48],[17.1,0.1],[17.2,0.02],[17.86,0.02],[17.96,0.19],[18.05,0.02],[19.0,0.05],[19.1,0.2],[19.2,0.8],[19.3,0.5],[19.45,0.61],[19.55,0.3],[19.7,0.67],[19.85,0.2],[20.0,0.05],[20.25,0.5],[20.4,1.2],[20.55,0.51],[20.7,0.05],[21.3,0.02],[21.9,0.02],[22.0,0.24],[22.1,0.02],[22.6,0.05],[22.67,0.3],[22.77,1.57],[22.9,0.05],[23.4,0.05],[23.5,0.1],[23.6,0.02],[24.5,0.02],[24.6,0.1],[24.7,0.02],[25.45,0.05],[25.6,0.91],[25.75,0.1],[25.9,0.45],[26.05,0.51],[26.2,0.61],[26.35,0.05],[26.6,0.02],[28.5,0.02],[28.6,0.08],[28.7,0.02],[31.2,0.02],[31.3,0.06],[31.4,0.01],[31.95,0.02],[32.05,0.35],[32.2,0.02],[35.0,0.02],[35.1,0.29],[35.2,0.02],[36.1,0.02],[36.2,0.13],[36.3,0.02],[40.9,0.02],[41.0,0.1],[41.1,0.02],[42.0,0.02],[42.1,0.3],[42.2,0.24],[42.3,0.02],[46,0]];
const t1Half = [[0,0],[1.6,0],[1.7,0.18],[1.76,0.2],[1.85,0.15],[1.95,0.02],[2.05,0.05],[2.2,0],[2.5,0.05],[2.6,1.5],[2.65,2.5],[2.72,2.5],[2.78,0.35],[2.9,0.37],[3.05,0.45],[3.17,0.8],[3.3,0.61],[3.4,0.35],[3.55,0.02],[4.7,0],[4.8,0.15],[4.98,0.55],[5.05,0.62],[5.2,0.58],[5.4,0.99],[5.5,0.3],[5.6,0],[6.2,0.05],[6.34,0.61],[6.45,0.25],[6.6,0],[7.06,0],[7.16,0.1],[7.3,0],[7.88,0],[7.98,0.09],[8.1,0],[8.94,0],[9.04,0.15],[9.28,0.67],[9.4,0.15],[9.5,0.02],[9.88,0.02],[9.98,0.1],[10.1,0],[10.5,0.05],[10.55,1.5],[10.62,2.5],[10.7,0.4],[10.8,0.43],[11.05,0.67],[11.2,0.56],[11.35,0.4],[11.55,0.1],[11.75,0.67],[11.85,0.56],[12.0,0.55],[12.15,1.25],[12.3,1.8],[12.4,2.5],[12.5,2.5],[12.58,0.88],[12.75,0.37],[12.9,0.35],[13.05,0.45],[13.2,0.61],[13.35,0.19],[13.5,0.02],[13.7,0.1],[13.85,0.13],[14.0,0],[16.85,0],[16.95,0.27],[17.1,0.02],[17.86,0],[17.96,0.19],[18.05,0],[19.0,0],[19.1,0.3],[19.2,0.53],[19.3,0.25],[19.45,0.33],[19.6,0.1],[20.0,0.05],[20.25,0.4],[20.4,1.12],[20.55,0.45],[20.7,0.02],[21.9,0],[22.0,0.1],[22.1,0],[22.6,0.02],[22.77,0.69],[22.9,0.02],[25.35,0],[25.45,0.1],[25.6,0.35],[25.75,0.05],[25.9,0.3],[26.05,0.35],[26.2,0.24],[26.35,0.02],[26.6,0],[31.95,0],[32.05,0.13],[32.2,0],[35.0,0],[35.1,0.12],[35.2,0],[36.1,0],[36.2,0.06],[36.3,0],[42.0,0],[42.1,0.05],[42.2,0],[46,0]];
const t1Zero = [[0,0],[6.5,0],[7.0,0.02],[8.0,0.03],[8.6,0.01],[9.0,0],[20.0,0],[21.0,0.02],[22.0,0],[46,0]];

// ---- diurnal averages (hour 0..24) ----
const pasDiObs = [3.82,4.1,4.62,5.02,5.2,5.42,5.79,6.23,5.4,4.57,4.07,3.74,4.45,4.28,3.78,3.29,2.66,2.14,1.68,1.49,1.49,1.66,2.08,3.25,3.82];
const pasDiErr = [1.1,1.2,1.4,1.5,1.6,1.75,1.7,1.85,1.6,1.4,1.2,0.8,1.35,1.35,0.9,0.7,0.6,0.55,0.4,0.35,0.45,0.4,0.45,0.75,1.1];
const pasDiDef = [2.2,2.33,2.77,3.11,3.44,3.76,3.78,3.53,3.25,3.34,3.63,3.25,3.21,2.1,1.24,0.96,0.8,0.57,0.67,0.96,1.24,1.53,1.78,1.95,2.2];
const pasDiHalf = [1.49,1.72,2.1,2.33,2.52,2.67,2.71,2.67,2.25,2.29,2.58,2.45,2.52,1.62,0.8,0.57,0.48,0.44,0.44,0.61,0.8,0.96,1.11,1.28,1.49];
const pasDiZero = [0,0,0,0,0,0,0,0,0,0,0,0,0,0,0,0,0,0,0,0,0,0,0,0,0];
const bakDiObs = [0.66,0.61,0.58,0.65,0.78,0.82,0.96,1.03,0.94,0.81,0.68,0.55,0.48,0.36,0.24,0.21,0.2,0.22,0.2,0.24,0.31,0.39,0.48,0.58,0.66];
const bakDiErr = [0.18,0.17,0.15,0.15,0.16,0.2,0.23,0.3,0.27,0.22,0.18,0.14,0.1,0.08,0.05,0.05,0.04,0.04,0.04,0.05,0.07,0.1,0.12,0.15,0.18];
const bakDiDef = [0.21,0.22,0.3,0.38,0.46,0.55,0.8,1.1,1.19,1.1,0.75,0.4,0.25,0.22,0.15,0.05,0.01,0,0,0,0,0.18,0.21,0.22,0.22];
const bakDiHalf = [0.07,0.075,0.08,0.1,0.105,0.11,0.17,0.29,0.38,0.37,0.25,0.12,0.07,0.03,0,0,0,0,0,0,0.01,0.03,0.045,0.055,0.065];
const bakDiZero = [0,0,0,0,0,0,0,0,0,0,0,0,0,0,0,0,0,0,0,0,0,0,0,0,0];
const t0DiObs = [0.19,0.2,0.206,0.23,0.214,0.214,0.214,0.214,0.229,0.21,0.19,0.265,0.268,0.288,0.26,0.245,0.237,0.197,0.16,0.14,0.149,0.171,0.183,0.178,0.19];
const t0DiErr = [0.05,0.063,0.065,0.075,0.06,0.062,0.055,0.062,0.068,0.063,0.058,0.075,0.077,0.085,0.062,0.057,0.054,0.043,0.034,0.029,0.032,0.045,0.054,0.055,0.05];
const t0DiDef = [0.038,0.051,0.072,0.095,0.112,0.129,0.14,0.117,0.089,0.049,0.013,0.006,0.009,0.032,0.026,0.009,0.007,0.007,0.003,0.002,0.003,0.006,0.009,0.02,0.038];
const t0DiHalf = [0.023,0.032,0.051,0.068,0.077,0.085,0.089,0.081,0.07,0.055,0.015,0.006,0.007,0.026,0.017,0.008,0.006,0.005,0.003,0.003,0.006,0.008,0.009,0.015,0.023];
const t0DiZero = [0.003,0.003,0.003,0.003,0.003,0.003,0.003,0.003,0.003,0.003,0.003,0.003,0.003,0.003,0.003,0.003,0.003,0.003,0.003,0.003,0.003,0.003,0.003,0.003,0.003];
const t1DiObs = [0.135,0.139,0.142,0.139,0.139,0.139,0.128,0.117,0.104,0.103,0.104,0.131,0.141,0.141,0.163,0.173,0.171,0.163,0.149,0.131,0.112,0.112,0.117,0.128,0.135];
const t1DiErr = [0.04,0.04,0.045,0.04,0.04,0.04,0.04,0.035,0.03,0.03,0.03,0.04,0.045,0.045,0.05,0.05,0.05,0.045,0.04,0.035,0.03,0.03,0.035,0.04,0.04];
const t1DiDef = [0.048,0.046,0.063,0.069,0.069,0.066,0.056,0.071,0.064,0.069,0.085,0.115,0.061,0.05,0.064,0.093,0.096,0.048,0.021,0.023,0.048,0.045,0.042,0.05,0.05];
const t1DiHalf = [0.024,0.024,0.027,0.025,0.024,0.023,0.021,0.027,0.027,0.031,0.037,0.05,0.051,0.045,0.055,0.069,0.061,0.039,0.018,0.019,0.029,0.027,0.024,0.027,0.024];
const t1DiZero = [0.002,0.002,0.002,0.002,0.002,0.002,0.002,0.002,0.002,0.002,0.002,0.002,0.002,0.002,0.002,0.002,0.002,0.002,0.002,0.002,0.002,0.002,0.002,0.002,0.002];

// night shading (LST hours): 19:00 to 04:36
const nightStartHour = 19, nightEndHour = 4.6;
const nightDays = d3.range(1, 46); // midnights May 16 .. June 29

// ---------------- DRAWING ----------------
const FONT = '"Liberation Sans", Arial, Helvetica, sans-serif';
const C = {obs:"#1e90ff", def:"#ffb800", half:"#ff0000", zero:"#1ec81e", night:"#d3d3d3"};
const svg = d3.select("#c").attr("font-family", FONT);

const X0 = 78.3, X1 = 731, RX0 = 792.5, RX1 = 979;
const rows = [{t:34,b:173.3},{t:208.3,b:325.5},{t:361,b:477.7},{t:513.3,b:638.5}];
const x = d3.scaleLinear().domain([0,46]).range([X0,X1]);
const xh = d3.scaleLinear().domain([0,24]).range([RX0,RX1]);

const ts = [
  {obs:pasObs, out:[], def:pasDef, half:pasHalf, zero:pasZero},
  {obs:bakObs, out:[], def:bakDef, half:bakHalf, zero:bakZero},
  {obs:t0Obs, out:t0ObsOutliers, def:t0Def, half:t0Half, zero:t0Zero},
  {obs:t1Obs, out:[], def:t1Def, half:t1Half, zero:t1Zero}
];
const di = [
  {obs:pasDiObs, err:pasDiErr, def:pasDiDef, half:pasDiHalf, zero:pasDiZero},
  {obs:bakDiObs, err:bakDiErr, def:bakDiDef, half:bakDiHalf, zero:bakDiZero},
  {obs:t0DiObs, err:t0DiErr, def:t0DiDef, half:t0DiHalf, zero:t0DiZero},
  {obs:t1DiObs, err:t1DiErr, def:t1DiDef, half:t1DiHalf, zero:t1DiZero}
];

const TFS = 15;
function cleanAxis(g){
  g.select(".domain").remove();
  g.selectAll("line").attr("stroke","#000").attr("stroke-width",1);
  g.attr("font-family", FONT).attr("font-size", TFS);
  g.selectAll("text").attr("fill","#000");
}
function rng(a,b,s){ return d3.range(0, Math.round((b-a)/s)+1).map(i => +(a+i*s).toFixed(4)); }

function axes(g, xs, ys, top, bot, x0, x1, xMaj, xMin, xLab, yMaj, yMin, yFmt){
  g.append("g").attr("transform",`translate(0,${bot})`).call(d3.axisBottom(xs).tickValues(xMin).tickSize(2.5).tickFormat("")).call(cleanAxis);
  g.append("g").attr("transform",`translate(0,${bot})`).call(d3.axisBottom(xs).tickValues(xMaj).tickSize(5).tickPadding(7.6).tickFormat((d,i)=>xLab[i])).call(cleanAxis);
  g.append("g").attr("transform",`translate(0,${top})`).call(d3.axisTop(xs).tickValues(xMin).tickSize(2.5).tickFormat("")).call(cleanAxis);
  g.append("g").attr("transform",`translate(0,${top})`).call(d3.axisTop(xs).tickValues(xMaj).tickSize(5).tickFormat("")).call(cleanAxis);
  g.append("g").attr("transform",`translate(${x0},0)`).call(d3.axisLeft(ys).tickValues(yMin).tickSize(2.5).tickFormat("")).call(cleanAxis);
  g.append("g").attr("transform",`translate(${x0},0)`).call(d3.axisLeft(ys).tickValues(yMaj).tickSize(5).tickPadding(5).tickFormat(d3.format(yFmt))).call(cleanAxis);
  g.append("g").attr("transform",`translate(${x1},0)`).call(d3.axisRight(ys).tickValues(yMin).tickSize(2.5).tickFormat("")).call(cleanAxis);
  g.append("g").attr("transform",`translate(${x1},0)`).call(d3.axisRight(ys).tickValues(yMaj).tickSize(5).tickFormat("")).call(cleanAxis);
  g.append("rect").attr("x",x0).attr("y",top).attr("width",x1-x0).attr("height",bot-top)
    .attr("fill","none").attr("stroke","#000").attr("stroke-width",1);
}

rows.forEach((r, i) => {
  // ---------- time series panel ----------
  const y = d3.scaleLinear().domain([0, leftMax[i]]).range([r.b, r.t]);
  const g = svg.append("g");
  const cid = "clipL"+i;
  svg.append("clipPath").attr("id",cid).append("rect").attr("x",X0).attr("y",r.t).attr("width",X1-X0).attr("height",r.b-r.t);
  const p = g.append("g").attr("clip-path",`url(#${cid})`);
  p.selectAll("rect.night").data(nightDays).enter().append("rect")
    .attr("x", d => x(d - (24-nightStartHour)/24)).attr("width", d => x(d + nightEndHour/24) - x(d - (24-nightStartHour)/24))
    .attr("y", r.t).attr("height", r.b - r.t).attr("fill", C.night);
  const line = d3.line().defined(d => d !== null).x(d => x(d[0])).y(d => y(d[1]));
  const D = ts[i];
  p.append("path").attr("d", line(D.obs)).attr("fill","none").attr("stroke",C.obs).attr("stroke-width",3.2).attr("stroke-linejoin","round").attr("stroke-linecap","round");
  p.selectAll("circle.o").data(D.obs.filter(d=>d).concat(D.out)).enter().append("circle")
    .attr("cx", d => x(d[0])).attr("cy", d => y(d[1])).attr("r", 2).attr("fill", C.obs);
  p.append("path").attr("d", line(D.def)).attr("fill","none").attr("stroke",C.def).attr("stroke-width",1.8).attr("stroke-linejoin","round");
  p.append("path").attr("d", line(D.half)).attr("fill","none").attr("stroke",C.half).attr("stroke-width",1.8).attr("stroke-linejoin","round");
  p.append("path").attr("d", line(D.zero)).attr("fill","none").attr("stroke",C.zero).attr("stroke-width",1.8);
  axes(g, x, y, r.t, r.b, X0, X1, dateTickDays, rng(0,46,0.5), dateTickLabels,
       rng(0,leftMax[i],leftMajor[i]), rng(0,leftMax[i],leftMinor[i]), leftFmt[i]);
  g.append("text").attr("x", 91).attr("y", r.t + 23).attr("font-size", 17.5).text(siteNames[i]);

  // ---------- diurnal panel ----------
  const yr = d3.scaleLinear().domain([0, rightMax[i]]).range([r.b, r.t]);
  const h = svg.append("g");
  const cid2 = "clipR"+i;
  svg.append("clipPath").attr("id",cid2).append("rect").attr("x",RX0).attr("y",r.t).attr("width",RX1-RX0).attr("height",r.b-r.t);
  const q = h.append("g").attr("clip-path",`url(#${cid2})`);
  q.append("rect").attr("x", xh(0)).attr("width", xh(nightEndHour)-xh(0)).attr("y", r.t).attr("height", r.b-r.t).attr("fill", C.night);
  q.append("rect").attr("x", xh(nightStartHour)).attr("width", xh(24)-xh(nightStartHour)).attr("y", r.t).attr("height", r.b-r.t).attr("fill", C.night);
  const E = di[i];
  const dl = (arr) => d3.line().x((d,k) => xh(hours[k])).y(d => yr(d))(arr);
  q.append("path").attr("d", dl(E.def)).attr("fill","none").attr("stroke",C.def).attr("stroke-width",2.3);
  q.append("path").attr("d", dl(E.half)).attr("fill","none").attr("stroke",C.half).attr("stroke-width",2.3);
  q.append("path").attr("d", dl(E.zero)).attr("fill","none").attr("stroke",C.zero).attr("stroke-width",2.3);
  q.selectAll("line.err").data(E.obs).enter().append("line")
    .attr("x1", (d,k) => xh(hours[k])).attr("x2", (d,k) => xh(hours[k]))
    .attr("y1", (d,k) => yr(d - E.err[k])).attr("y2", (d,k) => yr(d + E.err[k]))
    .attr("stroke", C.obs).attr("stroke-width", 1.8);
  q.selectAll("circle.m").data(E.obs).enter().append("circle")
    .attr("cx", (d,k) => xh(hours[k])).attr("cy", d => yr(d)).attr("r", 4.6).attr("fill", C.obs);
  axes(h, xh, yr, r.t, r.b, RX0, RX1, hourTicks, rng(0,24,1), hourTickLabels,
       rng(0,rightMax[i],rightMajor[i]), rng(0,rightMax[i],rightMinor[i]), rightFmt[i]);
});

// legend / titles
const legX = [80, 203.3, 326.7, 451.7];
const legC = [C.obs, C.def, C.half, C.zero];
seriesNames.forEach((s,i) => svg.append("text").attr("x", legX[i]).attr("y", 26.5).attr("font-size", 17.5).attr("fill", legC[i]).text(s));
svg.append("text").attr("x", 886).attr("y", 26).attr("text-anchor","middle").attr("font-size", 17.5).text("diurnal average");
svg.append("text").attr("x", 404).attr("y", 679).attr("text-anchor","middle").attr("font-size", 15).text("date (LST)");
svg.append("text").attr("x", 78.3).attr("y", 681).attr("font-size", 15).text("May");
svg.append("text").attr("x", 731).attr("y", 681).attr("text-anchor","end").attr("font-size", 15).text("June");
svg.append("text").attr("x", 886).attr("y", 679).attr("text-anchor","middle").attr("font-size", 15).text("time (LST)");
// y-axis title
const yt = svg.append("text").attr("transform","translate(24,337) rotate(-90)").attr("text-anchor","middle").attr("font-size", 15.5);
yt.append("tspan").text("NO");
yt.append("tspan").attr("font-size", 10.5).attr("dy", 4).text("3");
yt.append("tspan").attr("font-size", 11).attr("dx", -1).attr("dy", -11).text("−");
yt.append("tspan").attr("dx", 2).attr("dy", 7).text("(ug m");
yt.append("tspan").attr("font-size", 10.5).attr("dy", -6).text("-3");
yt.append("tspan").attr("dy", 6).text(")");
</script>
</body></html>
